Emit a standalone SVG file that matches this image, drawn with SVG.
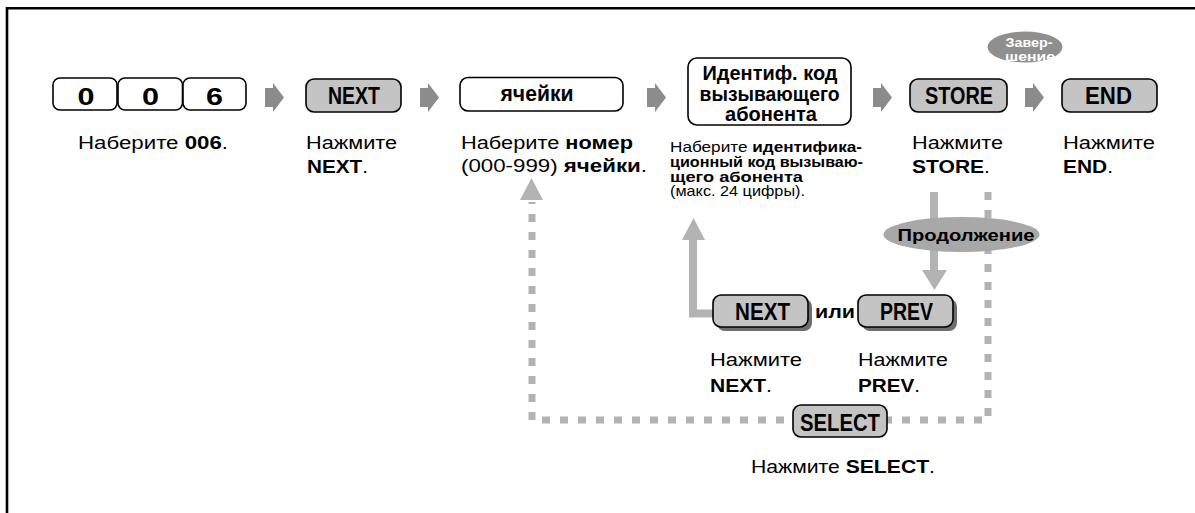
<svg xmlns="http://www.w3.org/2000/svg" width="1195" height="513" viewBox="0 0 1195 513">
<defs>
<style>
text{font-family:"Liberation Sans",Arial,sans-serif;fill:#000}
.b{font-weight:bold}
.box{fill:#fff;stroke:#000;stroke-width:1.6}
.btn{fill:#c4c4c4;stroke:#000;stroke-width:1.6}
.shadow{fill:#6e6e6e}
.step{fill:#8c8c8c}
.lt{fill:#b3b3b3}
.lts{stroke:#b3b3b3;stroke-width:8;fill:none}
.dash{stroke:#b3b3b3;stroke-width:7;fill:none;stroke-dasharray:8 10}
.key{font-weight:bold;font-size:23.5px;text-anchor:middle}
.cap{font-size:17.5px}
.sm{font-size:14.3px}
.wt{fill:#fff}
</style>
</defs>
<rect width="1195" height="513" fill="#fff"/>
<path d="M7 513V8.2H1195" fill="none" stroke="#000" stroke-width="2.6"/>

<g id="connectors">
<path class="dash" d="M988 192V420H532V202"/>
<polygon class="lt" points="520,200 531.5,178 543,200"/>
<path class="lts" d="M693 238V313.5H716"/>
<polygon class="lt" points="682,240 693.5,218 705,240"/>
<rect class="lt" x="930" y="192" width="8" height="80"/>
<polygon class="lt" points="922,270 947,270 934.5,290"/>
<polygon class="step" points="265,88 273,88 273,83 284,97.5 273,112 273,107 265,107"/>
<polygon class="step" points="420,88 428,88 428,83 439,97.5 428,112 428,107 420,107"/>
<polygon class="step" points="647,88 655,88 655,83 666,97.5 655,112 655,107 647,107"/>
<polygon class="step" points="873,88 881,88 881,83 892,97.5 881,112 881,107 873,107"/>
<polygon class="step" points="1025,88 1033,88 1033,83 1044,97.5 1033,112 1033,107 1025,107"/>
</g>

<g id="n006">
<rect class="box" x="53" y="78" width="64" height="32" rx="7"/>
<rect class="box" x="118" y="78" width="64.5" height="32" rx="7"/>
<rect class="box" x="183" y="78" width="63" height="32" rx="7"/>
<text class="key" x="86" y="105" font-size="27" textLength="17" lengthAdjust="spacingAndGlyphs">0</text>
<text class="key" x="150.5" y="105" font-size="27" textLength="17" lengthAdjust="spacingAndGlyphs">0</text>
<text class="key" x="214.5" y="105" font-size="27" textLength="17" lengthAdjust="spacingAndGlyphs">6</text>
<text class="cap" x="78" y="149" textLength="150" lengthAdjust="spacingAndGlyphs">Наберите <tspan class="b">006</tspan>.</text>
</g>

<g id="nNext">
<rect class="btn" x="306" y="79" width="95" height="33" rx="8"/>
<text class="key" x="354" y="103.5" textLength="52" lengthAdjust="spacingAndGlyphs">NEXT</text>
<text class="cap" x="306" y="149" textLength="91" lengthAdjust="spacingAndGlyphs">Нажмите</text>
<text class="cap b" x="307" y="172.5" textLength="61" lengthAdjust="spacingAndGlyphs">NEXT<tspan font-weight="normal">.</tspan></text>
</g>

<g id="nCell">
<rect class="box" x="460" y="77.5" width="163" height="33.5" rx="8"/>
<text class="b" x="537" y="100.5" font-size="22" text-anchor="middle" textLength="73" lengthAdjust="spacingAndGlyphs">ячейки</text>
<text class="cap" x="461" y="149" textLength="172" lengthAdjust="spacingAndGlyphs">Наберите <tspan class="b">номер</tspan></text>
<text class="cap" x="461" y="172" textLength="186" lengthAdjust="spacingAndGlyphs">(000-999) <tspan class="b">ячейки</tspan>.</text>
</g>

<g id="nCallerId">
<rect class="box" x="688" y="58" width="163" height="67" rx="9"/>
<text class="b" x="770" y="80" font-size="20" text-anchor="middle" textLength="135" lengthAdjust="spacingAndGlyphs">Идентиф. код</text>
<text class="b" x="769.5" y="100.5" font-size="20" text-anchor="middle" textLength="140" lengthAdjust="spacingAndGlyphs">вызывающего</text>
<text class="b" x="771" y="121" font-size="20" text-anchor="middle" textLength="92" lengthAdjust="spacingAndGlyphs">абонента</text>
<text class="sm" x="670" y="151.5" textLength="192" lengthAdjust="spacingAndGlyphs">Наберите <tspan class="b">идентифика-</tspan></text>
<text class="sm b" x="670" y="166.5" textLength="193" lengthAdjust="spacingAndGlyphs">ционный код вызываю-</text>
<text class="sm b" x="670" y="181.5" textLength="133" lengthAdjust="spacingAndGlyphs">щего абонента</text>
<text class="sm" x="670" y="196" textLength="135" lengthAdjust="spacingAndGlyphs">(макс. 24 цифры).</text>
</g>

<g id="nStore">
<rect class="btn" x="910" y="79" width="97" height="33" rx="8"/>
<text class="key" x="959" y="103.5" textLength="68" lengthAdjust="spacingAndGlyphs">STORE</text>
<text class="cap" x="912" y="149" textLength="91" lengthAdjust="spacingAndGlyphs">Нажмите</text>
<text class="cap b" x="912" y="173" textLength="78" lengthAdjust="spacingAndGlyphs">STORE<tspan font-weight="normal">.</tspan></text>
</g>

<g id="nFinish">
<ellipse cx="1025" cy="47" rx="37.5" ry="15.5" fill="#8f8f8f"/>
<text class="b wt" x="1029" y="46.5" font-size="13.5" text-anchor="middle" textLength="47" lengthAdjust="spacingAndGlyphs">Завер-</text>
<text class="b wt" x="1030" y="60.5" font-size="13.5" text-anchor="middle" textLength="50" lengthAdjust="spacingAndGlyphs">шение</text>
</g>

<g id="nEnd">
<rect class="btn" x="1062" y="79" width="95" height="33" rx="8"/>
<text class="key" x="1108.5" y="103.5" textLength="47" lengthAdjust="spacingAndGlyphs">END</text>
<text class="cap" x="1063" y="149" textLength="92" lengthAdjust="spacingAndGlyphs">Нажмите</text>
<text class="cap b" x="1063" y="173" textLength="50" lengthAdjust="spacingAndGlyphs">END<tspan font-weight="normal">.</tspan></text>
</g>

<g id="nContinue">
<ellipse cx="961.5" cy="234.5" rx="78" ry="17.5" fill="#a8a8a8"/>
<text class="b" x="966" y="241" font-size="16" text-anchor="middle" textLength="137" lengthAdjust="spacingAndGlyphs">Продолжение</text>
</g>

<g id="nNext2">
<rect class="shadow" x="717" y="299" width="95" height="32" rx="8"/>
<rect class="btn" x="713" y="295" width="95" height="32" rx="8"/>
<text class="key" x="762.5" y="320" textLength="55" lengthAdjust="spacingAndGlyphs">NEXT</text>
<text class="cap" x="710" y="366" textLength="92" lengthAdjust="spacingAndGlyphs">Нажмите</text>
<text class="cap b" x="710" y="392" textLength="62" lengthAdjust="spacingAndGlyphs">NEXT<tspan font-weight="normal">.</tspan></text>
</g>

<g id="nOr">
<text class="b" x="815" y="318" font-size="17.5" textLength="40" lengthAdjust="spacingAndGlyphs">или</text>
</g>

<g id="nPrev">
<rect class="shadow" x="862" y="299" width="95" height="32" rx="8"/>
<rect class="btn" x="858" y="295" width="95" height="32" rx="8"/>
<text class="key" x="906.5" y="320" textLength="53" lengthAdjust="spacingAndGlyphs">PREV</text>
<text class="cap" x="858" y="366" textLength="90" lengthAdjust="spacingAndGlyphs">Нажмите</text>
<text class="cap b" x="858" y="392" textLength="62" lengthAdjust="spacingAndGlyphs">PREV<tspan font-weight="normal">.</tspan></text>
</g>

<g id="nSelect">
<rect class="btn" x="793" y="405" width="94" height="32" rx="8"/>
<text class="key" x="840" y="430.5" textLength="80" lengthAdjust="spacingAndGlyphs">SELECT</text>
<text class="cap" x="751" y="473" textLength="184" lengthAdjust="spacingAndGlyphs">Нажмите <tspan class="b">SELECT</tspan>.</text>
</g>
</svg>
